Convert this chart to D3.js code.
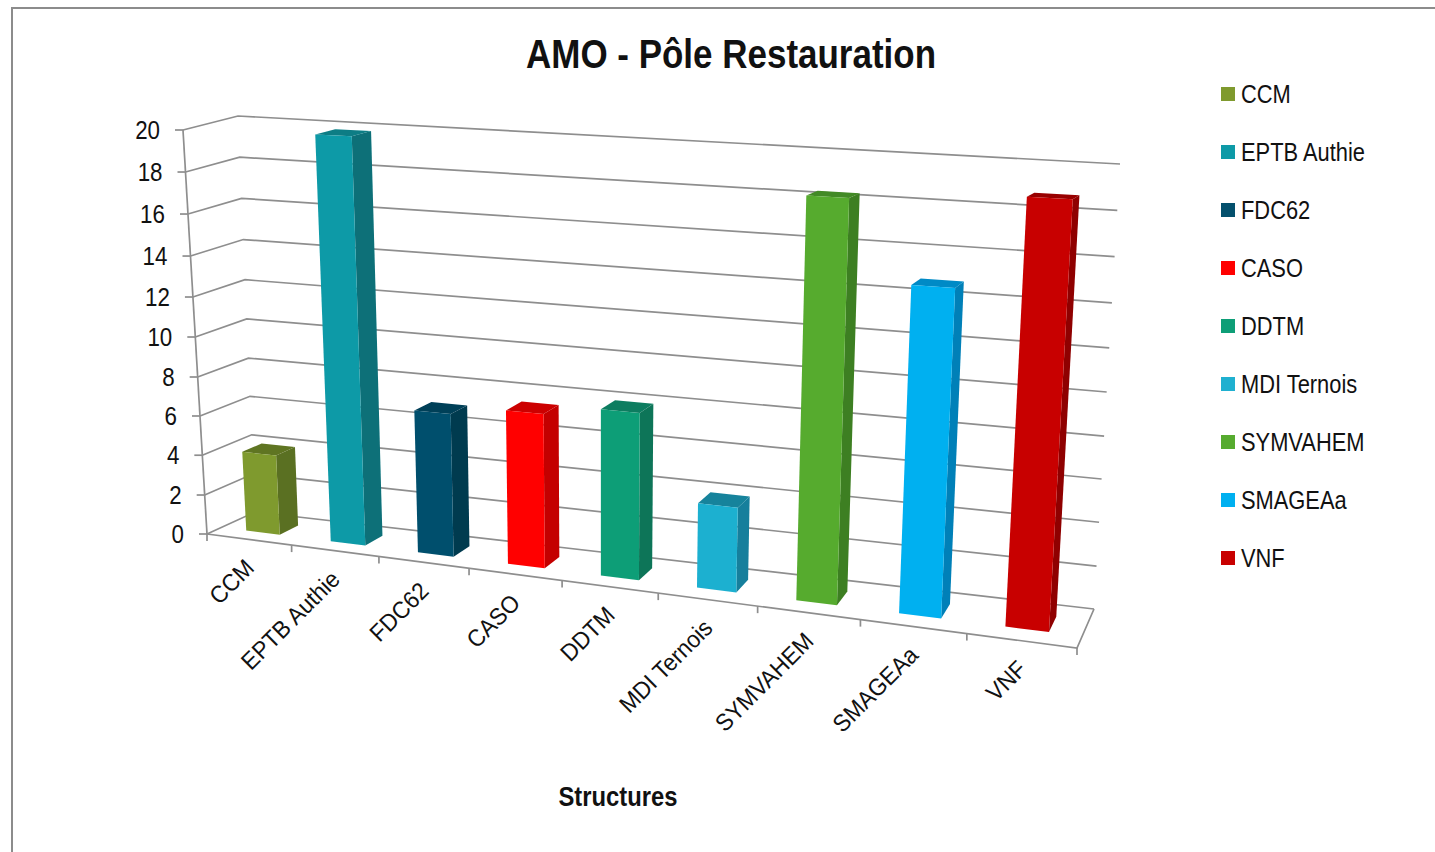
<!DOCTYPE html>
<html><head><meta charset="utf-8">
<style>html,body{margin:0;padding:0;background:#fff;overflow:hidden}svg{display:block}text{font-family:"Liberation Sans",Arial,sans-serif;fill:#111}</style>
<script src="https://cdn.jsdelivr.net/npm/d3@7/dist/d3.min.js"></script>
</head><body><svg id="c" width="1435" height="852"></svg>
<script>
const titleText = "AMO - Pôle Restauration";
const axisTitle = "Structures";
const categories = ["CCM","EPTB Authie","FDC62","CASO","DDTM","MDI Ternois","SYMVAHEM","SMAGEAa","VNF"];
const values = [4,19.85,7,7.45,7.95,3.95,18.25,14.7,18.7];
const frontColors = ["#7f9a2e","#0e9aa7","#04506d","#ff0000","#0e9e77","#1fb0d0","#56ab2f","#00b0f0","#c80000"];
const sideColors = ["#5a6f20","#0a6f78","#033a50","#c40000","#0b7458","#137f9c","#3e7f22","#0080b8","#8f0000"];
const topColors = ["#5f7421","#0a7d85","#033f58","#cc0000","#0c7d60","#17839c","#438a25","#008ac6","#980000"];
const yTicks = [0,2,4,6,8,10,12,14,16,18,20];
const yTickFractions = [0,0.0965,0.195,0.2921,0.3886,0.4876,0.5866,0.688,0.792,0.896,1];

// plane corners [front-left, front-right, back-right, back-left]
const floorCorners = [[207,534],[1077,648],[1094,609],[255,512]];
const topCorners = [[183,130],[1105,172],[1120,164],[238,116]];
const GRID = "#8e8e8e";
const K = 1.16; // horizontal foreshortening

const persp = u => u/(K*(1-u)+u);
const lerp = (a,b,t)=>[a[0]+(b[0]-a[0])*t,a[1]+(b[1]-a[1])*t];
const planePoint = (c,s,d)=>lerp(lerp(c[0],c[1],s),lerp(c[3],c[2],s),d);
const yFrac = d3.scaleLinear().domain(yTicks).range(yTickFractions);
const xBand = d3.scaleBand().domain(categories).range([0,1]).paddingInner(0.6).paddingOuter(0.3);
const depth = d3.scaleLinear().domain([0,1]).range([0.3,0.7]);
const P = (u,d,v)=>{const s=persp(u);return lerp(planePoint(floorCorners,s,d),planePoint(topCorners,s,d),yFrac(v));};

const svg = d3.select("#c");
const defs = svg.append("defs");
defs.append("filter").attr("id","soft").attr("x","-5%").attr("y","-5%").attr("width","110%").attr("height","110%")
  .append("feGaussianBlur").attr("stdDeviation",0.6);
const line = d3.line();
const poly = pts => line(pts)+"Z";

svg.append("path").attr("d",line([[12,852],[12,8],[1435,8]])).attr("fill","none").attr("stroke","#8c8c8c").attr("stroke-width",2);

svg.append("text").attr("x",731).attr("y",68).attr("text-anchor","middle").attr("font-size",41).attr("font-weight","bold")
  .attr("textLength",410).attr("lengthAdjust","spacingAndGlyphs").text(titleText);
svg.append("text").attr("x",618).attr("y",806).attr("text-anchor","middle").attr("font-size",27).attr("font-weight","bold")
  .attr("textLength",119).attr("lengthAdjust","spacingAndGlyphs").text(axisTitle);

const grid = svg.append("g").attr("fill","none").attr("stroke",GRID).attr("stroke-width",1.7).attr("filter","url(#soft)");
yTicks.forEach(t=>{
  grid.append("path").attr("d",line([P(0,0,t),P(0,1,t),P(1,1,t)]));
  const p=P(0,0,t);
  grid.append("path").attr("d",line([[p[0]-8,p[1]],p]));
  svg.append("text").attr("transform",`translate(${p[0]-23},${p[1]+9}) scale(0.86,1)`)
    .attr("text-anchor","end").attr("font-size",26).text(t);
});
grid.append("path").attr("d",line([P(0,0,20),P(0,0,0)]));
grid.append("path").attr("d",line([P(0,0,0),P(1,0,0),P(1,1,0)]));
const step = xBand.step();
d3.range(categories.length+1).forEach(i=>{
  const p=P(i*step,0,0);
  grid.append("path").attr("d",line([p,[p[0],p[1]+7]]));
});

const bars = svg.append("g").attr("filter","url(#soft)");
categories.forEach((c,i)=>{
  const u0=xBand(c),u1=u0+xBand.bandwidth(),d0=depth(0),d1=depth(1),v=values[i];
  const g=bars.append("g");
  g.append("path").attr("d",poly([P(u1,d0,0),P(u1,d1,0),P(u1,d1,v),P(u1,d0,v)])).attr("fill",sideColors[i]);
  g.append("path").attr("d",poly([P(u0,d0,v),P(u1,d0,v),P(u1,d1,v),P(u0,d1,v)])).attr("fill",topColors[i]);
  g.append("path").attr("d",poly([P(u0,d0,0),P(u1,d0,0),P(u1,d0,v),P(u0,d0,v)])).attr("fill",frontColors[i]);
  const m=P(u0+xBand.bandwidth()/2,0,0);
  svg.append("text").attr("transform",`translate(${m[0]+6.5},${m[1]+30}) rotate(-45) scale(0.94,1)`)
    .attr("text-anchor","end").attr("font-size",24).text(c);
});

const legendY = d3.scalePoint().domain(categories).range([94,558]);
categories.forEach((c,i)=>{
  const y=legendY(c);
  svg.append("rect").attr("x",1221).attr("y",y-7).attr("width",14).attr("height",14).attr("fill",frontColors[i]);
  svg.append("text").attr("transform",`translate(1241,${y+9}) scale(0.875,1)`).attr("font-size",25).text(c);
});
</script></body></html>
